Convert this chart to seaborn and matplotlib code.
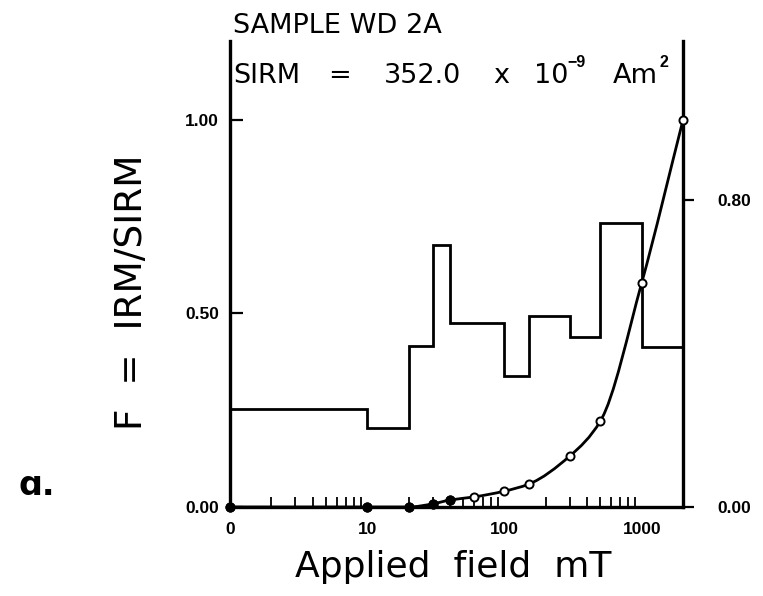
import numpy as np
import matplotlib
matplotlib.use("Agg")
import matplotlib.pyplot as plt
from matplotlib.path import Path
from matplotlib.patches import PathPatch
from matplotlib.ticker import FixedLocator, NullFormatter
import seaborn as sns
import pandas as pd

# IRM acquisition (zero field is placed at 1 mT on the log axis)
field_mT = [1, 10, 20, 30, 40, 60, 100, 150, 300, 500, 1000, 2000]
irm_fraction = [0.0, 0.0, 0.0, 0.008, 0.018, 0.026, 0.041, 0.059, 0.132, 0.222, 0.579, 1.0]

# coercivity spectrum (right axis), one bar per field interval
bin_edges = [1, 10, 20, 30, 40, 100, 150, 300, 500, 1000, 2000]
bin_heights = [0.255, 0.206, 0.420, 0.683, 0.479, 0.341, 0.498, 0.443, 0.740, 0.417]

x_tick_values = [1, 10, 100, 1000]
x_tick_labels = ["0", "10", "100", "1000"]
left_ticks = [0.0, 0.5, 1.0]
right_ticks = [0.0, 0.8]

sns.set_theme(style="ticks")
plt.rcParams["font.family"] = ["Liberation Sans", "DejaVu Sans"]
for key in ["text.color", "axes.labelcolor", "xtick.color", "ytick.color", "axes.edgecolor"]:
    plt.rcParams[key] = "black"
label_family = ["DejaVu Sans"]

W, H = 763, 596
fig = plt.figure(figsize=(W / 100, H / 100), dpi=100)
ax = fig.add_axes([230 / W, 1 - 507 / H, 453 / W, 466 / H])
ax2 = ax.twinx()
ax.set_zorder(ax2.get_zorder() + 1)
ax.patch.set_visible(False)

ax.set_xscale("log")
ax.set_xlim(1, 2000)
ax.set_ylim(0, 1.204)
ax2.set_ylim(0, 1.2135)

# coercivity histogram
ax2.stairs(bin_heights, bin_edges, color="black", linewidth=2.0, baseline=None)

# smooth monotone curve through the IRM points (cubic Bezier in log-field space)
u = np.log10(np.array(field_mT, dtype=float))
v = np.array(irm_fraction, dtype=float)
h = np.diff(u)
d = np.diff(v) / h
m = np.zeros_like(v)
m[0], m[-1] = d[0], d[-1]
for i in range(1, len(v) - 1):
    if d[i - 1] * d[i] <= 0:
        m[i] = 0.0
    else:
        w1 = 2 * h[i] + h[i - 1]
        w2 = h[i] + 2 * h[i - 1]
        m[i] = (w1 + w2) / (w1 / d[i - 1] + w2 / d[i])
verts = [(10 ** u[0], v[0])]
codes = [Path.MOVETO]
for i in range(len(v) - 1):
    c1 = (10 ** (u[i] + h[i] / 3), v[i] + m[i] * h[i] / 3)
    c2 = (10 ** (u[i + 1] - h[i] / 3), v[i + 1] - m[i + 1] * h[i] / 3)
    verts += [c1, c2, (10 ** u[i + 1], v[i + 1])]
    codes += [Path.CURVE4] * 3
ax.add_patch(PathPatch(Path(verts, codes), facecolor="none", edgecolor="black",
                       linewidth=2.0, transform=ax.transData, clip_on=False, zorder=3))

df = pd.DataFrame({"field": field_mT, "F": irm_fraction})
sns.scatterplot(data=df, x="field", y="F", ax=ax, marker="o", s=34,
                facecolor="white", edgecolor="black", linewidth=1.4,
                zorder=4, clip_on=False)
sns.scatterplot(data=df[df["F"] < 0.02], x="field", y="F", ax=ax, marker="o",
                s=45, color="black", edgecolor="black", zorder=5, clip_on=False)

# spines
for s in ["top", "right"]:
    ax.spines[s].set_visible(False)
for s in ["top", "left", "bottom"]:
    ax2.spines[s].set_visible(False)
ax.spines["left"].set_linewidth(2.4)
ax.spines["bottom"].set_linewidth(2.4)
ax2.spines["right"].set_linewidth(2.4)

# x ticks
ax.xaxis.set_major_locator(FixedLocator(x_tick_values))
ax.set_xticklabels(x_tick_labels)
minor = [k * 10 ** e for e in range(0, 3) for k in range(2, 10)]
ax.xaxis.set_minor_locator(FixedLocator(minor))
ax.xaxis.set_minor_formatter(NullFormatter())
ax.tick_params(axis="x", which="major", length=0, pad=11)
ax.tick_params(axis="x", which="minor", direction="in", length=7, width=1.3)

ax.set_yticks(left_ticks)
ax.set_yticklabels([f"{t:.2f}" for t in left_ticks])
ax.tick_params(axis="y", which="major", direction="in", length=9, width=1.6, pad=8)
ax2.set_yticks(right_ticks)
ax2.set_yticklabels([f"{t:.2f}" for t in right_ticks])
ax2.tick_params(axis="y", which="major", direction="out", length=8, width=1.6, pad=17)

for lab in ax.get_xticklabels() + ax.get_yticklabels() + ax2.get_yticklabels():
    lab.set_fontweight("bold")
    lab.set_fontsize(12.5)

ax.set_xlabel("Applied  field  mT", family=label_family, fontsize=26)
ax.xaxis.set_label_coords(0.493, -0.092)
ax.set_ylabel("F  =  IRM/SIRM", family=label_family, fontsize=27)
ax.yaxis.set_label_coords(-0.177, 0.461)

# sample header
def header(xpx, ypx, s, size=19.5):
    fig.text(xpx / W, 1 - ypx / H, s, family=label_family, fontsize=size,
             ha="left", va="baseline")

header(233, 33, "SAMPLE WD 2A")
header(233, 83, "SIRM")
header(328, 83, "=")
header(384, 83, "352.0")
header(493, 83, "x")
header(534, 83, "10")
fig.text(567 / W, 1 - 67 / H, "\u22129", fontsize=11.5, fontweight="bold",
         ha="left", va="baseline")
header(613, 83, "Am")
fig.text(660 / W, 1 - 67 / H, "2", fontsize=11.5, fontweight="bold",
         ha="left", va="baseline")

fig.text(18 / W, 1 - 495 / H, "\u0251.", family=["DejaVu Sans"], fontsize=24,
         fontweight="bold", ha="left", va="baseline")

fig.savefig("out.png", dpi=100)
